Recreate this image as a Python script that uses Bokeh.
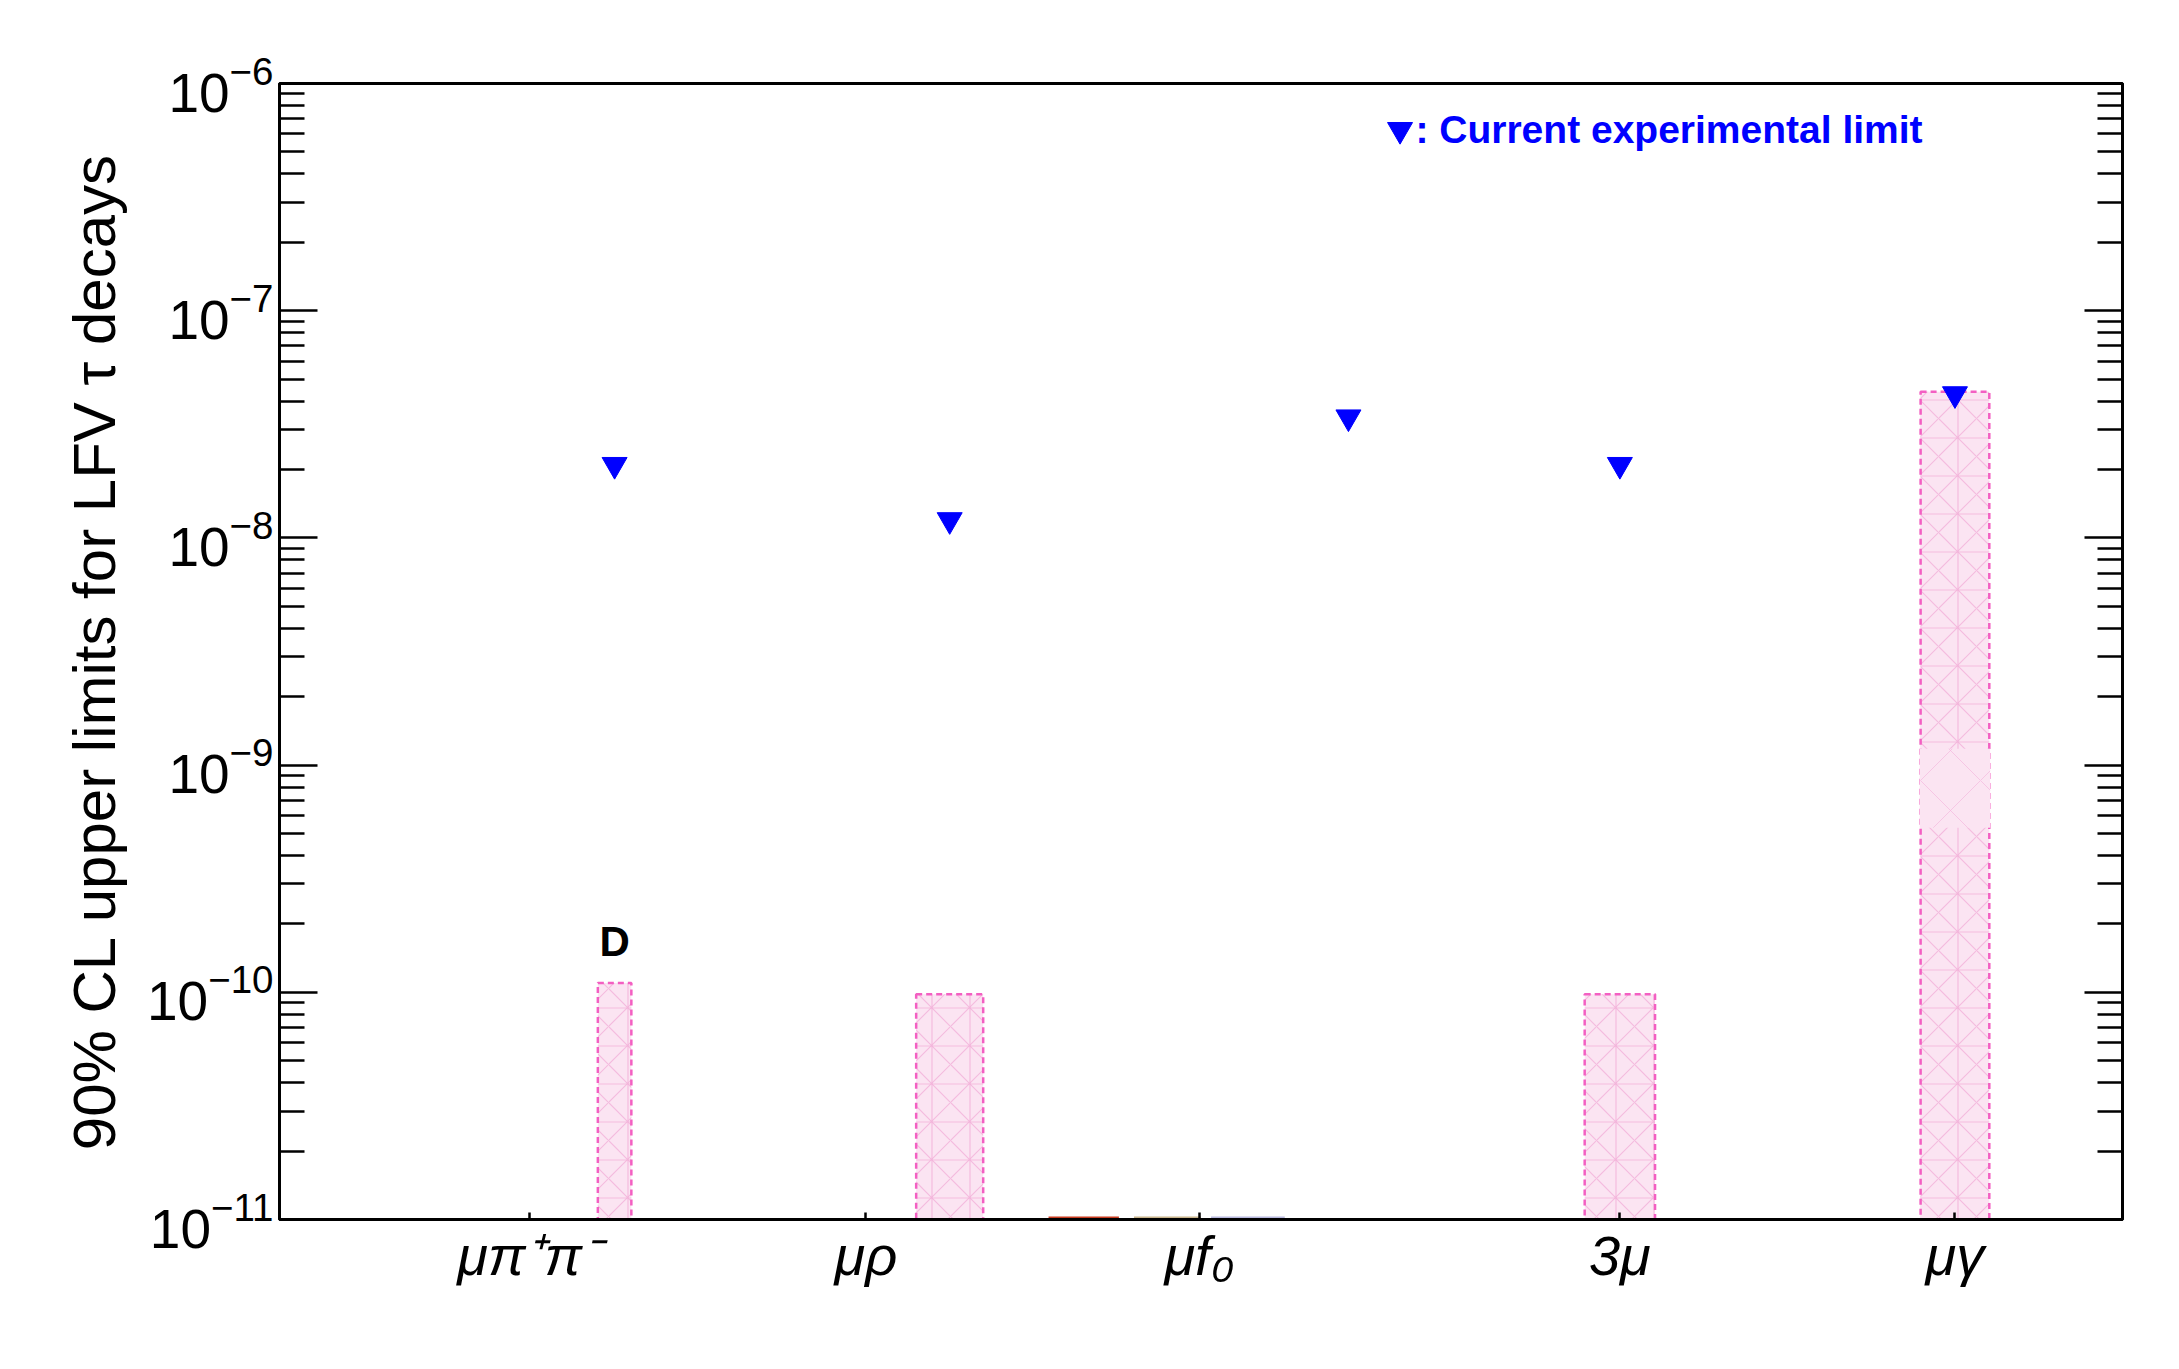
from bokeh.plotting import figure
from bokeh.models import (LogAxis, FixedTicker, LogTickFormatter, Range1d,
                          ColumnDataSource, CustomJSTickFormatter)
from bokeh.core.properties import value
from bokeh.embed import file_html
from bokeh.resources import INLINE

# ---------------- data ----------------
categories = ["μπ⁺π⁻", "μρ", "μf₀", "3μ", "μγ"]
label_x = [0.745, 1.75, 2.745, 4.0, 5.0]

# current experimental limits (blue inverted triangles)
limit_x = [1.0, 2.0, 3.19, 4.0, 5.0]
limit_values = [2.1e-8, 1.2e-8, 3.4e-8, 2.1e-8, 4.3e-8]

# projected 90% CL upper limits (pink hatched bars)
bar_x = [1.0, 2.0, 4.0, 5.0]
bar_widths = [0.10, 0.20, 0.21, 0.205]
bar_values = [1.1e-10, 9.8e-11, 9.8e-11, 4.4e-8]
bar_tag = ["D", "", "", ""]

# overlapping block inside the μγ bar
overlap_x = [5.0]
overlap_widths = [0.21]
overlap_low = [5.3e-10]
overlap_high = [1.18e-9]

# tiny bars sitting on the x axis near μf0
small_x = [2.40, 2.65, 2.89]
small_widths = [0.21, 0.20, 0.22]
small_values = [1.03e-11, 1.03e-11, 1.03e-11]
small_colors = ["#c83a1e", "#c8b48c", "#b8b8de"]

y_major = [1e-11, 1e-10, 1e-9, 1e-8, 1e-7, 1e-6]
y_minor = [m * 10.0 ** e for e in range(-11, -6) for m in range(2, 10)]

legend_text = ": Current experimental limit"
y_title = "90% CL upper limits for LFV τ decays"

# ---------------- styling constants ----------------
FONT = "Liberation Sans"
PINK_FILL = "#fbe4f2"
PINK_HATCH = "#f3b0da"
PINK_LINE = "#f35fc2"
Y0 = 1e-11
BASE = 1e-12
LEG_X, LEG_Y = 3.344, 6.26e-7      # legend marker position
LEG_TX, LEG_TY = 3.39, 6.25e-7     # legend text position

p = figure(width=2179, height=1369, y_axis_type="log",
           x_range=Range1d(0, 5.5), y_range=Range1d(1e-11, 1e-6),
           output_backend="svg", toolbar_location=None,
           min_border_left=279, min_border_right=57,
           min_border_top=83, min_border_bottom=150)
p.grid.visible = False
p.outline_line_color = "black"
p.outline_line_width = 3
p.background_fill_color = "white"
p.border_fill_color = "white"

# ---- bars ----
bars = ColumnDataSource(dict(x=bar_x, w=bar_widths, top=bar_values,
                             bottom=[BASE] * len(bar_x)))
p.vbar(x="x", width="w", top="top", bottom="bottom", source=bars,
       fill_color=PINK_FILL, line_color=None,
       hatch_pattern="cross", hatch_color=PINK_HATCH, hatch_scale=38,
       hatch_weight=1.2, hatch_alpha=0.8)
p.vbar(x="x", width="w", top="top", bottom="bottom", source=bars,
       fill_alpha=0, line_color=PINK_LINE, line_width=2.5, line_dash="6 4",
       hatch_pattern="diagonal_cross", hatch_color=PINK_HATCH,
       hatch_scale=38, hatch_weight=1.2, hatch_alpha=0.8)

ov = ColumnDataSource(dict(x=overlap_x, w=overlap_widths, top=overlap_high,
                           bottom=overlap_low))
p.vbar(x="x", width="w", top="top", bottom="bottom", source=ov,
       fill_color=PINK_FILL, line_color=None,
       hatch_pattern="diagonal_cross", hatch_color=PINK_HATCH,
       hatch_scale=60, hatch_weight=1.0, hatch_alpha=0.6)

sm = ColumnDataSource(dict(x=small_x, w=small_widths, top=small_values,
                           bottom=[Y0] * len(small_x), c=small_colors))
p.vbar(x="x", width="w", top="top", bottom="bottom", source=sm,
       fill_color="c", line_color=None)

# ---- current experimental limits ----
p.scatter(x=limit_x, y=limit_values, marker="inverted_triangle", size=25,
          fill_color="#0000ff", line_color="#0000ff")

# ---- annotations ----
p.text(x=[bar_x[0]], y=[bar_values[0]], text=[bar_tag[0]], y_offset=-41,
       text_align="center", text_baseline="alphabetic",
       text_font=value(FONT), text_font_style="bold",
       text_font_size="42px", text_color="black")
p.scatter(x=[LEG_X], y=[LEG_Y], marker="inverted_triangle", size=25,
          fill_color="#0000ff", line_color="#0000ff")
p.text(x=[LEG_TX], y=[LEG_TY], text=[legend_text],
       text_align="left", text_baseline="alphabetic",
       text_font=value(FONT), text_font_style="bold",
       text_font_size="39px", text_color="#0000ff")

# ---- y axes ----
yax = p.yaxis[0]
yax.ticker = FixedTicker(ticks=y_major, minor_ticks=y_minor)
yax.formatter = LogTickFormatter()
yax.major_label_text_font = FONT
yax.major_label_text_font_size = "55px"
yax.major_label_text_color = "black"
yax.major_label_standoff = 6
yax.axis_label = y_title
yax.axis_label_text_font = FONT
yax.axis_label_text_font_size = "60px"
yax.axis_label_text_font_style = "normal"
yax.axis_label_text_color = "black"
yax.axis_label_standoff = 16

ryax = LogAxis(ticker=FixedTicker(ticks=y_major, minor_ticks=y_minor),
               formatter=CustomJSTickFormatter(code="return ''"),
               major_label_standoff=0)
p.add_layout(ryax, "right")

for ax in (yax, ryax):
    ax.axis_line_width = 3
    ax.axis_line_color = "black"
    ax.major_tick_in = 38
    ax.major_tick_out = 0
    ax.minor_tick_in = 25
    ax.minor_tick_out = 0
    ax.major_tick_line_width = 2.5
    ax.minor_tick_line_width = 2.5
    ax.major_tick_line_color = "black"
    ax.minor_tick_line_color = "black"

# ---- x axis ----
xax = p.xaxis[0]
xax.ticker = FixedTicker(ticks=label_x)
xax.major_label_overrides = {x: c for x, c in zip(label_x, categories)}
xax.major_label_text_font = FONT
xax.major_label_text_font_size = "56px"
xax.major_label_text_font_style = "italic"
xax.major_label_text_color = "black"
xax.major_label_standoff = 4
xax.axis_line_width = 3
xax.axis_line_color = "black"
xax.major_tick_in = 7
xax.major_tick_out = 0
xax.major_tick_line_width = 2.5
xax.minor_tick_line_color = None

open("out.html", "w").write(file_html(p, INLINE))
